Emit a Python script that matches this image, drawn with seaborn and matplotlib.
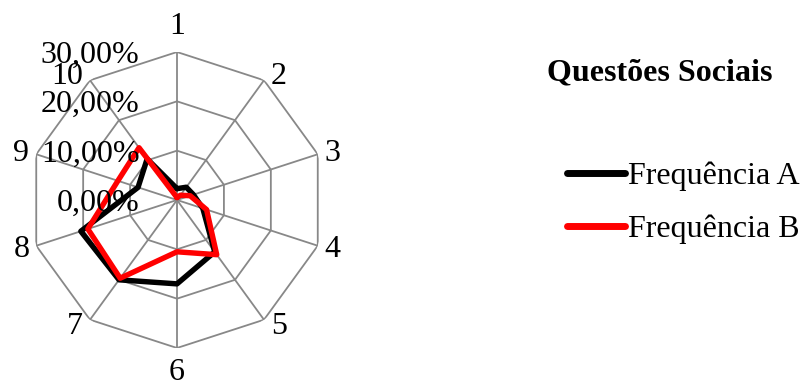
import numpy as np
import pandas as pd
import seaborn as sns
import matplotlib.pyplot as plt

# dados (%)
questoes = ['1', '2', '3', '4', '5', '6', '7', '8', '9', '10']
freq_a = [2.3, 3.2, 3.5, 5.5, 13.0, 17.0, 20.0, 20.5, 8.3, 10.3]
freq_b = [0.5, 1.2, 2.8, 6.3, 13.7, 10.5, 19.6, 19.0, 12.6, 13.1]
series = ['Frequência A', 'Frequência B']
cores = ['#000000', '#ff0000']
niveis = [0, 10, 20, 30]
niveis_txt = ['0,00%', '10,00%', '20,00%', '30,00%']

sns.set_style('white')
plt.rcParams['font.family'] = ['Liberation Serif', 'DejaVu Serif']
plt.rcParams['text.color'] = 'black'

n = len(questoes)
angulos = np.linspace(0, 2 * np.pi, n, endpoint=False)
ang_fechado = np.append(angulos, angulos[0])

# tabela longa para o seaborn (poligono fechado)
linhas = []
for nome, vals in zip(series, [freq_a, freq_b]):
    for i in range(n + 1):
        linhas.append({'theta': ang_fechado[i], 'valor': vals[i % n], 'serie': nome})
df = pd.DataFrame(linhas)

W, H = 811, 385
fig = plt.figure(figsize=(W / 100, H / 100), dpi=100)
cx, cy, R = 177, 200, 148
ax = fig.add_axes([(cx - R) / W, (H - cy - R) / H, 2 * R / W, 2 * R / H], projection='polar')
ax.set_theta_zero_location('N')
ax.set_theta_direction(-1)

# grade em forma de decagono
for nv in niveis[1:]:
    ax.plot(ang_fechado, [nv] * (n + 1), color='#888888', lw=1.3, zorder=1)
for a in angulos:
    ax.plot([a, a], [0, niveis[-1]], color='#888888', lw=1.3, zorder=1)

sns.lineplot(data=df, x='theta', y='valor', hue='serie', hue_order=series,
             palette=dict(zip(series, cores)), sort=False, estimator=None,
             lw=3.9, ax=ax, zorder=3)

ax.set_ylim(0, niveis[-1])
ax.grid(False)
ax.spines['polar'].set_visible(False)
ax.set_xticks([])
ax.set_yticks([])
ax.set_xlabel('')
ax.set_ylabel('')
ax.patch.set_alpha(0)

# rotulos das questoes, ao lado dos vertices
for a, q in zip(angulos, questoes):
    s, c = np.sin(a), np.cos(a)
    if abs(s) < 0.1:
        ha, dx, dy = 'center', 0, 18 * c
    else:
        ha = 'left' if s > 0 else 'right'
        dx, dy = 5 * np.sign(s), 4.5 * c - 1
    ax.annotate(q, xy=(a, niveis[-1]), xytext=(dx, dy), textcoords='offset points',
                ha=ha, va='center', fontsize=23, annotation_clip=False)

# rotulos do eixo radial
for nv, t in zip(niveis, niveis_txt):
    ax.annotate(t, xy=(0, nv), xytext=(-27, -2.5), textcoords='offset points',
                ha='right', va='center', fontsize=23, annotation_clip=False)

handles, labels = ax.get_legend_handles_labels()
ax.get_legend().remove()
for h in handles:
    h.set_solid_capstyle('round')
    h.set_linewidth(5)
fig.legend(handles, labels, loc='upper left', bbox_to_anchor=(567 / W, 1 - 162 / H),
           frameon=False, fontsize=23, handlelength=1.8, handletextpad=0.1,
           borderpad=0, borderaxespad=0, labelspacing=0.72)

fig.text(660 / W, 1 - 73 / H, 'Questões Sociais', ha='center', va='center',
         fontsize=23, fontweight='bold')

fig.savefig('out.png', dpi=100)
